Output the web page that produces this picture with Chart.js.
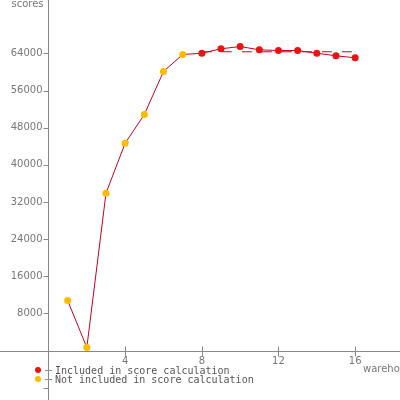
<!DOCTYPE html>
<html>
<head>
<meta charset="utf-8">
<script src="https://cdn.jsdelivr.net/npm/chart.js@4.4.1/dist/chart.umd.min.js"></script>
<style>
    html, body { margin: 0; padding: 0; background: #ffffff; }
    #chartScores { display: block; }
</style>
</head>
<body>
<canvas id="chartScores" width="400" height="400"></canvas>
<script>
// data
var warehouses = [1, 2, 3, 4, 5, 6, 7, 8, 9, 10, 11, 12, 13, 14, 15, 16];
var scores = [10770, 650, 33880, 44650, 50830, 60100, 63760, 64040, 64990, 65480, 64770, 64620, 64620, 64040, 63480, 63050];
var included = [false, false, false, false, false, false, false, true, true, true, true, true, true, true, true, true];
var avgX = [8, 16];
var avgY = [64350, 64350];
var xTicks = [4, 8, 12, 16];
var yTicks = [8000, 16000, 24000, 32000, 40000, 48000, 56000, 64000];
var yTicksNoLabel = [-8000];
var legendLabels = ['Included in score calculation', 'Not included in score calculation'];

var lineColor = '#c8001e';
var redDot = '#ee1111';
var yellowDot = '#ffbb00';
var axisColor = '#888888';

drawScoreChart();

function drawScoreChart() {
    var points = [];
    var colors = [];
    for (var i = 0; i < warehouses.length; i++) {
        points.push({ x: warehouses[i], y: scores[i] });
        colors.push(included[i] ? redDot : yellowDot);
    }
    var avgPoints = [];
    for (var j = 0; j < avgX.length; j++) {
        avgPoints.push({ x: avgX[j], y: avgY[j] });
    }

    // axes are drawn by hand so they cross at the origin
    var axesPlugin = {
        id: 'crossAxes',
        beforeDatasetsDraw: function (chart) {
            var ctx = chart.ctx;
            var xs = chart.scales.x;
            var ys = chart.scales.y;
            var x0 = Math.round(xs.getPixelForValue(0)) + 0.5;
            var y0 = Math.round(ys.getPixelForValue(0)) + 0.5;
            ctx.save();
            ctx.strokeStyle = axisColor;
            ctx.lineWidth = 1;
            ctx.beginPath();
            ctx.moveTo(0, y0);
            ctx.lineTo(chart.width, y0);
            ctx.moveTo(x0, 0);
            ctx.lineTo(x0, chart.height);
            // x ticks
            for (var i = 0; i < xTicks.length; i++) {
                var px = Math.round(xs.getPixelForValue(xTicks[i])) + 0.5;
                ctx.moveTo(px, y0 - 5);
                ctx.lineTo(px, y0 + 5);
            }
            // y ticks
            var all = yTicks.concat(yTicksNoLabel);
            for (var k = 0; k < all.length; k++) {
                var py = Math.round(ys.getPixelForValue(all[k])) + 0.5;
                ctx.moveTo(x0 - 5, py);
                ctx.lineTo(x0, py);
            }
            ctx.stroke();

            ctx.fillStyle = '#777777';
            ctx.font = '10px "DejaVu Sans"';
            ctx.textAlign = 'center';
            ctx.textBaseline = 'middle';
            for (var a = 0; a < xTicks.length; a++) {
                ctx.fillText(String(xTicks[a]), xs.getPixelForValue(xTicks[a]), y0 + 10);
            }
            ctx.textAlign = 'right';
            for (var b = 0; b < yTicks.length; b++) {
                ctx.fillText(String(yTicks[b]), x0 - 6, ys.getPixelForValue(yTicks[b]));
            }
            // axis titles
            ctx.textBaseline = 'alphabetic';
            ctx.fillText('scores', x0 - 5, 7);
            ctx.textAlign = 'left';
            ctx.fillText('warehouses', 363, 372);
            ctx.restore();
        },
        afterDraw: function (chart) {
            var ctx = chart.ctx;
            var dots = [redDot, yellowDot];
            var rows = [370, 379];
            ctx.save();
            for (var i = 0; i < legendLabels.length; i++) {
                ctx.fillStyle = dots[i];
                ctx.beginPath();
                ctx.arc(38, rows[i], 3, 0, Math.PI * 2);
                ctx.fill();
                ctx.strokeStyle = '#7a9a90';
                ctx.beginPath();
                ctx.moveTo(45, rows[i] + 0.5);
                ctx.lineTo(52, rows[i] + 0.5);
                ctx.stroke();
                ctx.fillStyle = '#555555';
                ctx.font = '10px "DejaVu Sans Mono"';
                ctx.textAlign = 'left';
                ctx.textBaseline = 'middle';
                ctx.fillText(legendLabels[i], 55, rows[i] + 1);
            }
            ctx.restore();
        }
    };

    var ctxScores = document.getElementById('chartScores');
    var scoreChart = new Chart(ctxScores, {
        type: 'line',
        data: {
            datasets: [{
                label: 'scores',
                data: points,
                borderColor: lineColor,
                borderWidth: 1,
                pointBackgroundColor: colors,
                pointBorderColor: colors,
                pointRadius: 3.5,
                pointBorderWidth: 0,
                tension: 0,
                order: 1
            }, {
                label: 'average',
                data: avgPoints,
                borderColor: lineColor,
                borderWidth: 1,
                borderDash: [10, 10],
                pointRadius: 0,
                order: 2
            }]
        },
        options: {
            responsive: false,
            animation: false,
            events: [],
            layout: { padding: 0, autoPadding: false },
            plugins: {
                legend: { display: false },
                tooltip: { enabled: false }
            },
            scales: {
                x: { type: 'linear', display: false, min: -2.53, max: 18.34 },
                y: { type: 'linear', display: false, min: -10660, max: 75500 }
            }
        },
        plugins: [axesPlugin]
    });
}
</script>
</body>
</html>
